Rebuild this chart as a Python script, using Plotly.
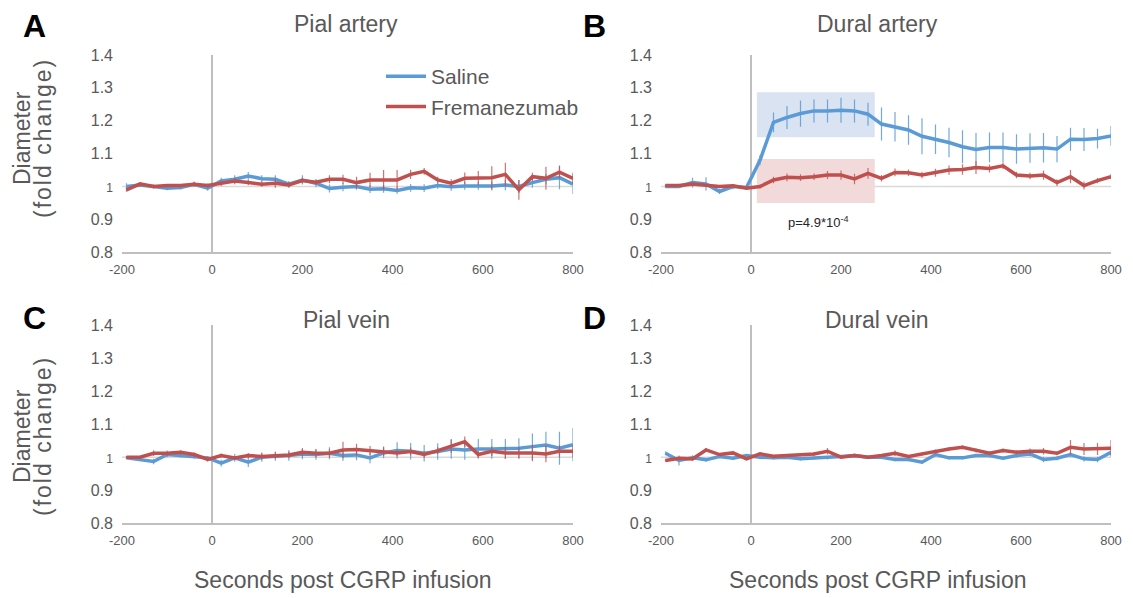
import plotly.graph_objects as go

# time points (seconds post CGRP infusion)
time_s = [-190 + 30 * k for k in range(34)]

# ---- Panel A: Pial artery ----
pa_saline = [1.000, 1.005, 1.000, 0.995, 0.997, 1.007, 0.995, 1.017, 1.022, 1.032, 1.024, 1.022,
             1.007, 1.020, 1.010, 0.994, 0.998, 1.000, 0.992, 0.993, 0.988, 0.996, 0.995, 1.003,
             0.999, 1.002, 1.002, 1.002, 1.005, 1.000, 1.012, 1.022, 1.027, 1.007]
pa_saline_err = [0.010, 0.006, 0.006, 0.006, 0.006, 0.008, 0.008, 0.010, 0.012, 0.012, 0.010, 0.012,
                 0.010, 0.014, 0.012, 0.012, 0.012, 0.010, 0.012, 0.012, 0.010, 0.012, 0.012, 0.010,
                 0.012, 0.012, 0.012, 0.014, 0.016, 0.020, 0.016, 0.016, 0.035, 0.030]
pa_frem = [0.990, 1.008, 1.000, 1.003, 1.003, 1.007, 1.003, 1.010, 1.017, 1.012, 1.007, 1.010,
           1.005, 1.018, 1.013, 1.022, 1.022, 1.012, 1.020, 1.020, 1.020, 1.037, 1.046, 1.020,
           1.010, 1.025, 1.025, 1.027, 1.037, 0.990, 1.030, 1.025, 1.044, 1.025]
pa_frem_err = [0.006, 0.005, 0.005, 0.005, 0.005, 0.006, 0.006, 0.008, 0.010, 0.008, 0.008, 0.014,
               0.008, 0.008, 0.008, 0.012, 0.014, 0.018, 0.022, 0.030, 0.030, 0.014, 0.010, 0.010,
               0.012, 0.018, 0.022, 0.035, 0.035, 0.030, 0.012, 0.035, 0.020, 0.018]

# ---- Panel B: Dural artery ----
da_saline = [1.000, 1.000, 1.012, 1.008, 0.985, 1.000, 0.997, 1.080, 1.195, 1.210, 1.222, 1.230,
             1.230, 1.232, 1.230, 1.220, 1.190, 1.182, 1.172, 1.153, 1.144, 1.134, 1.121, 1.113,
             1.119, 1.119, 1.114, 1.117, 1.118, 1.114, 1.144, 1.143, 1.146, 1.154]
da_saline_err = [0.004, 0.004, 0.015, 0.020, 0.008, 0.008, 0.006, 0.015, 0.030, 0.035, 0.040, 0.035,
                 0.035, 0.038, 0.035, 0.035, 0.050, 0.045, 0.045, 0.055, 0.045, 0.045, 0.050, 0.050,
                 0.045, 0.045, 0.045, 0.045, 0.045, 0.040, 0.035, 0.035, 0.030, 0.030]
da_frem = [1.003, 1.003, 1.008, 1.003, 1.000, 1.002, 0.995, 1.000, 1.020, 1.028, 1.027, 1.030,
           1.035, 1.035, 1.023, 1.040, 1.025, 1.043, 1.042, 1.035, 1.042, 1.050, 1.052, 1.058,
           1.055, 1.063, 1.035, 1.032, 1.035, 1.012, 1.030, 1.003, 1.018, 1.030]
da_frem_err = [0.004, 0.004, 0.004, 0.004, 0.004, 0.004, 0.005, 0.006, 0.010, 0.012, 0.010, 0.010,
               0.012, 0.014, 0.016, 0.016, 0.010, 0.012, 0.010, 0.010, 0.012, 0.014, 0.016, 0.020,
               0.012, 0.010, 0.010, 0.010, 0.014, 0.010, 0.020, 0.012, 0.008, 0.008]

# ---- Panel C: Pial vein ----
pv_saline = [0.998, 0.993, 0.987, 1.008, 1.005, 1.002, 0.998, 0.982, 0.998, 0.985, 1.000, 1.003,
             1.005, 1.010, 1.008, 1.012, 1.005, 1.007, 0.998, 1.013, 1.020, 1.018, 1.012, 1.017,
             1.025, 1.022, 1.025, 1.025, 1.025, 1.027, 1.032, 1.037, 1.027, 1.038]
pv_saline_err = [0.004, 0.004, 0.008, 0.008, 0.006, 0.006, 0.006, 0.010, 0.012, 0.015, 0.014, 0.014,
                 0.016, 0.016, 0.016, 0.018, 0.016, 0.016, 0.016, 0.016, 0.025, 0.025, 0.025, 0.025,
                 0.030, 0.030, 0.030, 0.030, 0.030, 0.030, 0.040, 0.040, 0.050, 0.050]
pv_frem = [1.000, 1.000, 1.012, 1.012, 1.015, 1.008, 0.993, 1.005, 0.998, 1.005, 1.002, 1.005,
           1.007, 1.015, 1.012, 1.012, 1.022, 1.023, 1.020, 1.018, 1.013, 1.017, 1.008, 1.020,
           1.033, 1.047, 1.008, 1.018, 1.013, 1.013, 1.013, 1.010, 1.018, 1.018]
pv_frem_err = [0.004, 0.004, 0.008, 0.008, 0.006, 0.006, 0.006, 0.006, 0.006, 0.008, 0.010, 0.010,
               0.010, 0.012, 0.012, 0.012, 0.025, 0.018, 0.014, 0.014, 0.010, 0.012, 0.010, 0.010,
               0.020, 0.016, 0.010, 0.014, 0.018, 0.018, 0.025, 0.025, 0.018, 0.018]

# ---- Panel D: Dural vein ----
dv_saline = [1.012, 0.990, 0.998, 0.992, 1.002, 0.997, 1.005, 1.000, 0.998, 1.000, 0.995, 0.997,
             0.998, 1.002, 1.005, 1.000, 1.000, 0.993, 0.993, 0.985, 1.008, 0.998, 0.998, 1.005,
             1.005, 0.997, 1.005, 1.010, 0.993, 0.997, 1.008, 0.995, 0.993, 1.015]
dv_saline_err = [0.005, 0.015, 0.008, 0.006, 0.005, 0.005, 0.005, 0.005, 0.005, 0.005, 0.005, 0.005,
                 0.005, 0.005, 0.006, 0.005, 0.005, 0.005, 0.005, 0.005, 0.006, 0.005, 0.005, 0.005,
                 0.006, 0.005, 0.006, 0.008, 0.008, 0.006, 0.008, 0.008, 0.008, 0.010]
dv_frem = [0.990, 0.997, 0.995, 1.022, 1.008, 1.013, 0.995, 1.010, 1.003, 1.005, 1.007, 1.010,
           1.018, 1.000, 1.005, 1.000, 1.005, 1.012, 1.002, 1.010, 1.017, 1.025, 1.030, 1.020,
           1.012, 1.020, 1.015, 1.018, 1.018, 1.012, 1.030, 1.025, 1.025, 1.027]
dv_frem_err = [0.004, 0.004, 0.004, 0.006, 0.004, 0.004, 0.004, 0.006, 0.004, 0.004, 0.004, 0.006,
               0.010, 0.004, 0.004, 0.004, 0.004, 0.008, 0.004, 0.004, 0.006, 0.006, 0.006, 0.006,
               0.006, 0.006, 0.006, 0.008, 0.010, 0.006, 0.022, 0.018, 0.018, 0.025]

x_ticks = [-200, 0, 200, 400, 600, 800]
x_ticktext = ["-200", "0", "200", "400", "600", "800"]
y_ticks = [0.8, 0.9, 1.0, 1.1, 1.2, 1.3, 1.4]
y_ticktext = ["0.8", "0.9", "<span style='font-size:12px'>1</span>", "1.1", "1.2", "1.3", "1.4"]
panel_titles = ["Pial artery", "Dural artery", "Pial vein", "Dural vein"]
panel_letters = ["A", "B", "C", "D"]
series_names = ["Saline", "Fremanezumab"]

BLUE = "#5b9bd5"
RED = "#c0504d"
BLUE_ERR = "rgba(91,155,213,0.85)"
RED_ERR = "rgba(192,80,77,0.8)"
GRAY_TXT = "#595959"
FONT = "Liberation Sans, Arial, sans-serif"

W, H = 1133, 598
def px_x(p):
    return p / W
def px_y(p):
    return 1 - p / H

col_px = [(122, 573), (661, 1111)]
row_px = [(55, 252.3), (325, 523.3)]

panels = [
    (pa_saline, pa_saline_err, pa_frem, pa_frem_err),
    (da_saline, da_saline_err, da_frem, da_frem_err),
    (pv_saline, pv_saline_err, pv_frem, pv_frem_err),
    (dv_saline, dv_saline_err, dv_frem, dv_frem_err),
]

fig = go.Figure()
layout = {}
shapes = []
annotations = []

for i, (s, se, f, fe) in enumerate(panels):
    r, c = divmod(i, 2)
    n = i + 1
    xa = "x" if n == 1 else f"x{n}"
    ya = "y" if n == 1 else f"y{n}"
    xkey = "xaxis" if n == 1 else f"xaxis{n}"
    ykey = "yaxis" if n == 1 else f"yaxis{n}"
    x0, x1 = col_px[c]
    y0, y1 = row_px[r]
    layout[xkey] = dict(
        domain=[px_x(x0), px_x(x1)], anchor=ya, range=[-200, 800],
        tickvals=x_ticks, ticktext=x_ticktext, ticks="", showgrid=False,
        zeroline=True, zerolinecolor="#bfbfbf", zerolinewidth=1.5,
        showline=True, linecolor="#bfbfbf", linewidth=1.5, automargin=False,
        ticklabelstandoff=4,
        tickfont=dict(family=FONT, size=13, color=GRAY_TXT), fixedrange=True,
    )
    layout[ykey] = dict(
        domain=[px_y(y1), px_y(y0)], anchor=xa, range=[0.8, 1.4],
        tickvals=y_ticks, ticktext=y_ticktext, ticks="", showgrid=False,
        zeroline=False, showline=False, ticklabelstandoff=8, automargin=False,
        tickfont=dict(family=FONT, size=16, color=GRAY_TXT), fixedrange=True,
    )
    # baseline at fold change 1
    shapes.append(dict(type="line", xref=xa, yref=ya, x0=-200, x1=800, y0=1, y1=1,
                       line=dict(color="#d9d9d9", width=1.5), layer="below"))
    for name, vals, errs, col, ecol in [
        (series_names[0], s, se, BLUE, BLUE_ERR),
        (series_names[1], f, fe, RED, RED_ERR),
    ]:
        fig.add_trace(go.Scatter(
            x=time_s, y=vals, mode="lines", name=name,
            line=dict(color=col, width=3.5),
            error_y=dict(type="data", array=errs, visible=True, color=ecol, thickness=1.2, width=0),
            xaxis=xa, yaxis=ya, showlegend=(i == 0), legendgroup=name,
        ))
    # titles
    annotations.append(dict(text=panel_titles[i], xref="paper", yref="paper",
                            x=px_x(346 if c == 0 else 877), y=px_y(24 if r == 0 else 320),
                            xanchor="center", yanchor="middle", showarrow=False,
                            font=dict(family=FONT, size=23, color=GRAY_TXT)))
    annotations.append(dict(text="<b>%s</b>" % panel_letters[i], xref="paper", yref="paper",
                            x=px_x(34 if c == 0 else 594), y=px_y(26 if r == 0 else 318),
                            xanchor="center", yanchor="middle", showarrow=False,
                            font=dict(family=FONT, size=32, color="#000000")))
    if c == 0:
        yc = 138 if r == 0 else 436
        annotations.append(dict(text="Diameter", xref="paper", yref="paper",
                                x=px_x(22), y=px_y(yc), xanchor="center", yanchor="middle",
                                textangle=-90, showarrow=False,
                                font=dict(family=FONT, size=23, color=GRAY_TXT)))
        annotations.append(dict(text="<span style='letter-spacing:2px'>(fold change)</span>",
                                xref="paper", yref="paper",
                                x=px_x(43), y=px_y(yc), xanchor="center", yanchor="middle",
                                textangle=-90, showarrow=False,
                                font=dict(family=FONT, size=23, color=GRAY_TXT)))
    if r == 1:
        annotations.append(dict(text="Seconds post CGRP infusion", xref="paper", yref="paper",
                                x=px_x(342 if c == 0 else 877), y=px_y(580),
                                xanchor="center", yanchor="middle", showarrow=False,
                                font=dict(family=FONT, size=23, color=GRAY_TXT)))

# shaded windows in dural artery panel
shapes.append(dict(type="rect", xref="x2", yref="y2", x0=13, x1=275, y0=1.150, y1=1.287,
                   fillcolor="#dae3f1", line=dict(width=0), layer="below"))
shapes.append(dict(type="rect", xref="x2", yref="y2", x0=13, x1=275, y0=0.950, y1=1.084,
                   fillcolor="#f1dad9", line=dict(width=0), layer="below"))
annotations.append(dict(text="p=4.9*10<sup>-4</sup>", xref="x2", yref="y2", x=150, y=0.891,
                        xanchor="center", yanchor="middle", showarrow=False,
                        font=dict(family=FONT, size=13, color="#262626")))

layout.update(dict(
    width=W, height=H, margin=dict(l=0, r=0, t=0, b=0, pad=0), autosize=False,
    paper_bgcolor="white", plot_bgcolor="white",
    shapes=shapes, annotations=annotations,
    legend=dict(x=px_x(381), y=px_y(56), xanchor="left", yanchor="top",
                font=dict(family=FONT, size=21, color=GRAY_TXT),
                bgcolor="rgba(0,0,0,0)", tracegroupgap=0, itemwidth=40),
    showlegend=True,
))
fig.update_layout(**layout)
fig.write_html("out.html", config={"displayModeBar": False},
               post_script="document.body.style.margin='0';document.body.style.overflow='hidden';")
